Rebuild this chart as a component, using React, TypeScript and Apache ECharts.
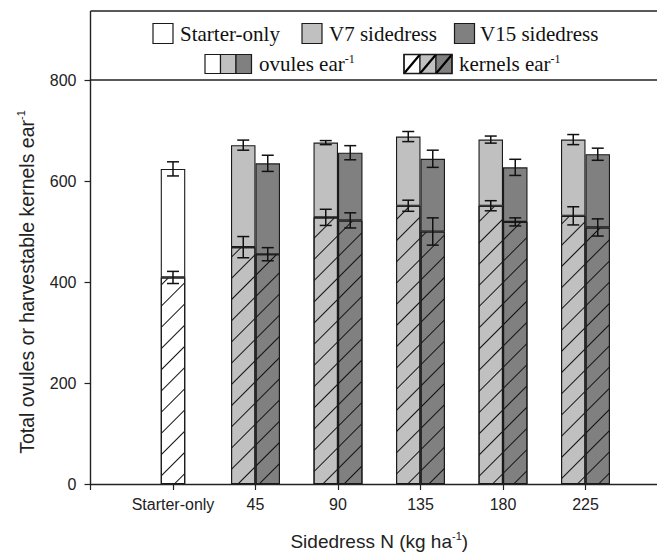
import React, { useEffect, useRef } from 'react';
import * as echarts from 'echarts';

// ---------- data ----------
const categories = ['', 'Starter-only', '45', '90', '135', '180', '225', ''];
const yTicks = [0, 200, 400, 600, 800];

const starterOvules = [null, 624, null, null, null, null, null, null];
const starterOvulesErr = [null, 14, null, null, null, null, null, null];
const starterKernels = [null, 409, null, null, null, null, null, null];
const starterKernelsErr = [null, 12, null, null, null, null, null, null];

const v7Ovules = [null, null, 671, 676, 688, 682, 682, null];
const v7OvulesErr = [null, null, 10, 4, 10, 7, 10, null];
const v7Kernels = [null, null, 469, 528, 551, 551, 531, null];
const v7KernelsErr = [null, null, 21, 16, 11, 10, 18, null];

const v15Ovules = [null, null, 635, 656, 644, 627, 653, null];
const v15OvulesErr = [null, null, 16, 14, 17, 16, 12, null];
const v15Kernels = [null, null, 455, 522, 500, 519, 508, null];
const v15KernelsErr = [null, null, 13, 15, 27, 8, 17, null];

// ---------- styles ----------
const W = 657;
const H = 553;
const BAR_W = 24.5;
const CAP_W = 12;
const WHITE = '#ffffff';
const LIGHT = '#c0c0c0';
const DARK = '#808080';
const EDGE = '#1a1a1a';
const AXIS = '#222222';
const SANS = '"Liberation Sans", Arial, sans-serif';
const SERIF = '"Liberation Serif", "Times New Roman", serif';

const HATCH = {
  symbol: 'rect',
  symbolSize: 1,
  color: '#111111',
  dashArrayX: [1, 0],
  dashArrayY: [1, 14],
  rotation: -Math.PI / 4,
};

const diff = (a: (number | null)[], b: (number | null)[]) =>
  a.map((v, i) => (v == null || b[i] == null ? null : (v as number) - (b[i] as number)));

function errData(vals: (number | null)[], errs: (number | null)[], side: number) {
  const out: number[][] = [];
  vals.forEach((v, i) => {
    if (v != null && errs[i] != null) out.push([i, v, errs[i] as number, side]);
  });
  return out;
}

export default function App() {
  const ref = useRef<HTMLDivElement>(null);

  useEffect(() => {
    if (!ref.current) return;
    const chart = echarts.init(ref.current, null, { renderer: 'svg' });

    const barBase = (stack: string, color: string, hatched: boolean) => ({
      type: 'bar',
      stack,
      barWidth: BAR_W,
      barGap: '0%',
      itemStyle: {
        color,
        borderColor: EDGE,
        borderWidth: 1.1,
        ...(hatched ? { decal: HATCH } : {}),
      },
      emphasis: { disabled: true },
    });

    const errSeries = {
      type: 'custom',
      xAxisIndex: 0,
      yAxisIndex: 0,
      z: 10,
      clip: false,
      data: [
        ...errData(starterOvules, starterOvulesErr, 0),
        ...errData(starterKernels, starterKernelsErr, 0),
        ...errData(v7Ovules, v7OvulesErr, -1),
        ...errData(v7Kernels, v7KernelsErr, -1),
        ...errData(v15Ovules, v15OvulesErr, 1),
        ...errData(v15Kernels, v15KernelsErr, 1),
      ],
      encode: { x: 0, y: 1 },
      renderItem: (params: any, api: any) => {
        const x = api.value(0);
        const v = api.value(1);
        const e = api.value(2);
        const s = api.value(3);
        const top = api.coord([x, v + e]);
        const bot = api.coord([x, v - e]);
        const cx = top[0] + (s * BAR_W) / 2;
        const hw = CAP_W / 2;
        const style = { stroke: '#111111', lineWidth: 1.5, fill: null };
        return {
          type: 'group',
          children: [
            { type: 'line', shape: { x1: cx, y1: top[1], x2: cx, y2: bot[1] }, style },
            { type: 'line', shape: { x1: cx - hw, y1: top[1], x2: cx + hw, y2: top[1] }, style },
            { type: 'line', shape: { x1: cx - hw, y1: bot[1], x2: cx + hw, y2: bot[1] }, style },
          ],
        };
      },
    };

    const lineStyle = { stroke: AXIS, lineWidth: 1.4 };
    const boxStyle = (fill: string) => ({ fill, stroke: EDGE, lineWidth: 1.2 });
    const hatchLine = (x: number, y: number, w: number, h: number) => ({
      type: 'line',
      shape: { x1: x, y1: y + h, x2: x + w, y2: y },
      style: { stroke: '#000', lineWidth: 2.2 },
    });
    const legendText = (x: number, y: number, text: string) => ({
      type: 'text',
      x,
      y,
      style: {
        text,
        fill: '#111',
        font: `21px ${SERIF}`,
        verticalAlign: 'middle',
        rich: {
          t: { fontSize: 21, fontFamily: SERIF, fill: '#111', lineHeight: 23 },
          s: { fontSize: 12, fontFamily: SERIF, fill: '#111', verticalAlign: 'top', lineHeight: 12 },
        },
      },
    });

    const hx = 404;
    const hy = 54.5;
    const hw = 16;
    const hh = 19;

    const option: any = {
      animation: false,
      grid: {
        left: 90.5,
        right: -11,
        top: 80,
        bottom: H - 484,
        containLabel: false,
        outerBoundsMode: 'none',
      },
      xAxis: [
        {
          type: 'category',
          data: categories,
          boundaryGap: false,
          axisLine: { show: true, lineStyle: { color: AXIS, width: 1.4 } },
          axisTick: { show: true, inside: false, length: 6, interval: 0, lineStyle: { color: AXIS, width: 1.2 } },
          axisLabel: { interval: 0, fontSize: 16, fontFamily: SANS, color: '#222', margin: 12 },
          splitLine: { show: false },
          name: '{t|Sidedress N (kg ha}{s|-1}{t|)}',
          nameLocation: 'middle',
          nameGap: 46,
          nameTextStyle: {
            fontSize: 19,
            fontFamily: SANS,
            color: '#222',
            rich: {
              t: { fontSize: 19, fontFamily: SANS, color: '#222', lineHeight: 22 },
              s: { fontSize: 11, fontFamily: SANS, color: '#222', verticalAlign: 'top', lineHeight: 11 },
            },
          },
        },
        {
          type: 'category',
          data: categories,
          boundaryGap: false,
          show: false,
        },
      ],
      yAxis: {
        type: 'value',
        min: yTicks[0],
        max: yTicks[yTicks.length - 1],
        interval: 200,
        axisLine: { show: true, lineStyle: { color: AXIS, width: 1.4 } },
        axisTick: { show: true, inside: false, length: 6, lineStyle: { color: AXIS, width: 1.2 } },
        axisLabel: { fontSize: 16, fontFamily: SANS, color: '#222', margin: 14 },
        splitLine: { show: false },
        name: '{t|Total ovules or harvestable kernels ear}{s|-1}',
        nameLocation: 'middle',
        nameGap: 53,
        nameTextStyle: {
          fontSize: 19.5,
          fontFamily: SANS,
          color: '#222',
          rich: {
            t: { fontSize: 19.5, fontFamily: SANS, color: '#222', lineHeight: 22 },
            s: { fontSize: 11, fontFamily: SANS, color: '#222', verticalAlign: 'top', lineHeight: 11 },
          },
        },
      },
      series: [
        { ...barBase('v7', LIGHT, true), name: 'V7 kernels', data: v7Kernels },
        { ...barBase('v7', LIGHT, false), name: 'V7 ovules', data: diff(v7Ovules, v7Kernels) },
        { ...barBase('v15', DARK, true), name: 'V15 kernels', data: v15Kernels },
        { ...barBase('v15', DARK, false), name: 'V15 ovules', data: diff(v15Ovules, v15Kernels) },
        { ...barBase('st', WHITE, true), xAxisIndex: 1, name: 'Starter kernels', data: starterKernels },
        { ...barBase('st', WHITE, false), xAxisIndex: 1, name: 'Starter ovules', data: diff(starterOvules, starterKernels) },
        errSeries,
      ],
      graphic: [
        { type: 'line', shape: { x1: 90.5, y1: 11, x2: W, y2: 11 }, style: lineStyle },
        { type: 'line', shape: { x1: 90.5, y1: 11, x2: 90.5, y2: 80 }, style: lineStyle },
        { type: 'line', shape: { x1: 90.5, y1: 80, x2: W, y2: 80 }, style: lineStyle },
        // row 1
        { type: 'rect', shape: { x: 153, y: 23.5, width: 20, height: 20 }, style: boxStyle(WHITE) },
        legendText(180, 33.5, '{t|Starter-only}'),
        { type: 'rect', shape: { x: 302, y: 23.5, width: 20, height: 20 }, style: boxStyle(LIGHT) },
        legendText(329, 33.5, '{t|V7 sidedress}'),
        { type: 'rect', shape: { x: 454.5, y: 23.5, width: 20, height: 20 }, style: boxStyle(DARK) },
        legendText(480, 33.5, '{t|V15 sidedress}'),
        // row 2
        { type: 'rect', shape: { x: 205, y: 54.5, width: 15.5, height: 19 }, style: boxStyle(WHITE) },
        { type: 'rect', shape: { x: 220.5, y: 54.5, width: 15.5, height: 19 }, style: boxStyle(LIGHT) },
        { type: 'rect', shape: { x: 236, y: 54.5, width: 15.5, height: 19 }, style: boxStyle(DARK) },
        legendText(259, 64, '{t|ovules ear}{s|-1}'),
        { type: 'rect', shape: { x: hx, y: hy, width: hw, height: hh }, style: boxStyle(WHITE) },
        { type: 'rect', shape: { x: hx + hw, y: hy, width: hw, height: hh }, style: boxStyle(LIGHT) },
        { type: 'rect', shape: { x: hx + 2 * hw, y: hy, width: hw, height: hh }, style: boxStyle(DARK) },
        hatchLine(hx, hy, hw, hh),
        hatchLine(hx + hw, hy, hw, hh),
        hatchLine(hx + 2 * hw, hy, hw, hh),
        {
          type: 'rect',
          shape: { x: hx, y: hy, width: 3 * hw, height: hh },
          style: { fill: null, stroke: EDGE, lineWidth: 1.4 },
        },
        legendText(459, 64, '{t|kernels ear}{s|-1}'),
      ],
    };

    chart.setOption(option);
    return () => chart.dispose();
  }, []);

  return (
    <div
      ref={ref}
      style={{ position: 'fixed', left: 0, top: 0, width: W, height: H, background: '#fff' }}
    />
  );
}
